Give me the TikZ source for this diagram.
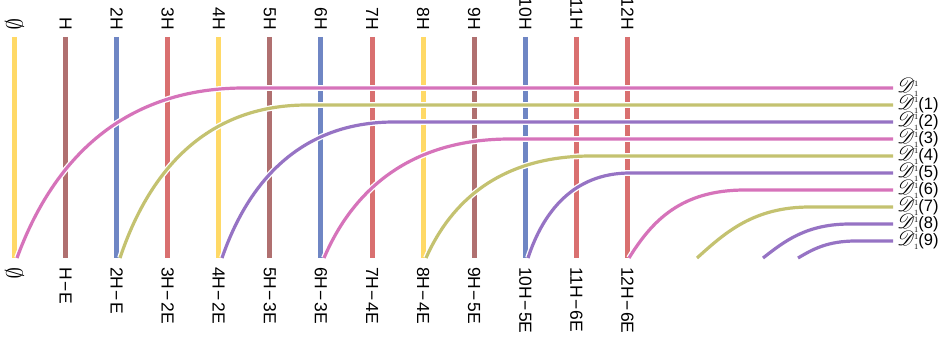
\documentclass[tikz,border=0pt]{standalone}
\usepackage{fontspec}
\setmainfont{Liberation Sans}
\usepackage{mathrsfs}
\definecolor{vyel}{HTML}{FFD966}
\definecolor{vbrn}{HTML}{B07070}
\definecolor{vblu}{HTML}{6F86C4}
\definecolor{vred}{HTML}{D97070}
\definecolor{cpnk}{HTML}{D673BA}
\definecolor{colv}{HTML}{C4C270}
\definecolor{cpur}{HTML}{9673C4}
\newcommand{\mn}{\kern1.3pt−\kern1.3pt}
\newcommand{\emp}{\scalebox{1.35}{$\emptyset$}}
\newcommand{\dsym}{\smash{{\fontsize{19.5}{19.5}\selectfont$\mathscr{D}$}\kern-1pt{\fontsize{16}{16}\selectfont$^{\scriptscriptstyle 1}_{\scriptscriptstyle 1}$}}}
\begin{document}
\begin{tikzpicture}[x=1pt,y=-1pt,
  vline/.style={line width=5pt},
  hcurve/.style={line width=3.2pt, preaction={draw=white, line width=5.8pt}},
  toplab/.style={rotate=-90, anchor=east, inner sep=0pt, font=\fontsize{17.5}{17.5}\selectfont},
  botlab/.style={rotate=-90, anchor=west, inner sep=0pt, font=\fontsize{17.5}{17.5}\selectfont},
  rlab/.style={anchor=west, inner sep=0pt, font=\fontsize{16.5}{16.5}\selectfont}]
\useasboundingbox (0,0) rectangle (943,345);
% vertical lines and labels
\foreach \k/\col/\t/\b in {
  0/vyel/{\emp}/{\emp},
  1/vbrn/{H}/{H\mn E},
  2/vblu/{2H}/{2H\mn E},
  3/vred/{3H}/{3H\mn 2E},
  4/vyel/{4H}/{4H\mn 2E},
  5/vbrn/{5H}/{5H\mn 3E},
  6/vblu/{6H}/{6H\mn 3E},
  7/vred/{7H}/{7H\mn 4E},
  8/vyel/{8H}/{8H\mn 4E},
  9/vbrn/{9H}/{9H\mn 5E},
  10/vblu/{10H}/{10H\mn 5E},
  11/vred/{11H}/{11H\mn 6E},
  12/vred/{12H}/{12H\mn 6E}} {
  \pgfmathsetmacro\vx{14.5+51.08*\k}
  \coordinate (vt\k) at (\vx,37);
  \coordinate (vb\k) at (\vx,257.5);
  \draw[vline,draw=\col] (vt\k) -- (vb\k);
  \node[toplab] (tl\k) at (\vx,30) {\t};
  \node[botlab] (bl\k) at (\vx,267) {\b};
}
% curves with horizontal lines
\foreach \i/\xs/\xe/\y/\col/\a/\bb/\c/\lab in {
  0/17/244/88/cpnk/0.15/0.55/0.45/{},
  1/120/307/105/colv/0.15/0.55/0.45/{(1)},
  2/222/394/122/cpur/0.15/0.55/0.45/{(2)},
  3/324/510/139/cpnk/0.15/0.55/0.45/{(3)},
  4/426/591/156/colv/0.15/0.55/0.45/{(4)},
  5/528/630/173/cpur/0.15/0.55/0.45/{(5)},
  6/629/745/190/cpnk/0.2/0.55/0.45/{(6)},
  7/697/810/207/colv/0.25/0.5/0.5/{(7)},
  8/763/850/224/cpur/0.25/0.5/0.5/{(8)},
  9/798/856/241/cpur/0.25/0.5/0.5/{(9)}} {
  \pgfmathsetmacro\w{\xe-\xs}
  \pgfmathsetmacro\h{258-\y}
  \pgfmathsetmacro\pax{\xs+\a*\w}
  \pgfmathsetmacro\pay{258-\bb*\h}
  \pgfmathsetmacro\pbx{\xs+\c*\w}
  \coordinate (s\i) at (\xs,258);
  \coordinate (e\i) at (\xe,\y);
  \coordinate (r\i) at (893,\y);
  \draw[hcurve,draw=\col] (s\i) .. controls (\pax,\pay) and (\pbx,\y) .. (e\i) -- (r\i);
  \node[rlab] (l\i) at (897,\y) {\vphantom{(1)}\dsym\kern-0.5pt\lab};
}
\end{tikzpicture}
\end{document}
